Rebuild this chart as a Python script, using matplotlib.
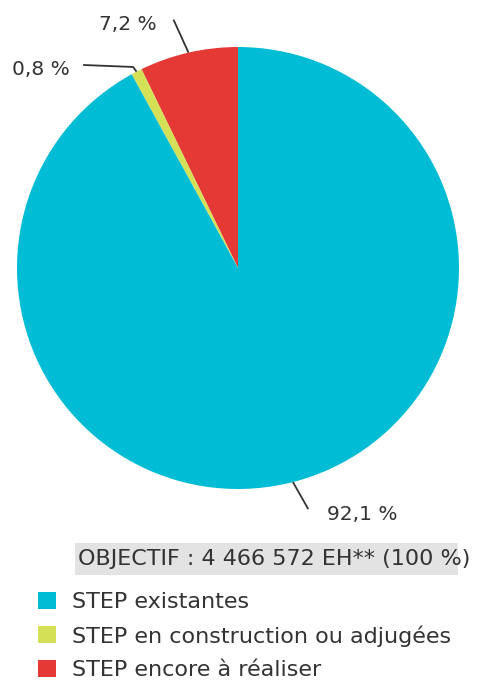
import numpy as np
import matplotlib
matplotlib.use("Agg")
import matplotlib.pyplot as plt
from matplotlib.patches import Patch, Rectangle

# ---- data ----
categories = ["STEP encore à réaliser", "STEP en construction ou adjugées", "STEP existantes"]
values = [7.2, 0.8, 92.1]
pct_labels = ["7,2 %", "0,8 %", "92,1 %"]
colors = ["#E53935", "#D4E157", "#00BCD4"]
legend_order = [2, 1, 0]
title_text = "OBJECTIF : 4 466 572 EH** (100 %)"

W, H = 479, 686
fig = plt.figure(figsize=(W / 100, H / 100), dpi=100)
plt.rcParams['font.family'] = ['DejaVu Sans']
TXT = "#333333"

cx, cy, R = 238, 268, 221
ax = fig.add_axes([(cx - R) / W, (H - cy - R) / H, 2 * R / W, 2 * R / H])
wedges, _ = ax.pie(values, colors=colors, startangle=90, counterclock=True,
                   radius=1, wedgeprops=dict(linewidth=0))
ax.set_xlim(-1, 1)
ax.set_ylim(-1, 1)
ax.set_aspect('equal')
ax.axis('off')

# label layout (pixel offsets from the wedge mid-point on the rim)
layouts = [
    dict(path=[(-15, 33)], text=(-31.5, 28.5), ha='right'),
    dict(path=[(-3.4, 4.7), (-53.4, 6.7)], text=(-66.4, 2.5), ha='right'),
    dict(path=[(15.4, -27.1)], text=(34.4, -32.6), ha='left'),
]
for w, lab, lay in zip(wedges, pct_labels, layouts):
    th = np.deg2rad((w.theta1 + w.theta2) / 2)
    x0, y0 = np.cos(th), np.sin(th)
    xs = [x0] + [x0 + dx / R for dx, dy in lay['path']]
    ys = [y0] + [y0 + dy / R for dx, dy in lay['path']]
    ax.plot(xs, ys, color=TXT, lw=1.3, clip_on=False, solid_capstyle='butt')
    tx, ty = lay['text']
    ax.text(x0 + tx / R, y0 + ty / R, lab, ha=lay['ha'], va='center',
            fontsize=14.5, color=TXT)

# title box
fig.patches.append(Rectangle((75 / W, 1 - 575 / H), (458 - 75) / W, 32 / H,
                             transform=fig.transFigure, facecolor="#E3E3E3",
                             edgecolor='none', zorder=0))
fig.text(78 / W, 1 - 559 / H, title_text, ha='left', va='center',
         fontsize=16, color=TXT)

handles = [Patch(facecolor=colors[i], edgecolor='none') for i in legend_order]
labels = [categories[i] for i in legend_order]
fig.legend(handles, labels, loc='upper left', bbox_to_anchor=(38 / W, 1 - 592 / H),
           frameon=False, fontsize=16, labelcolor=TXT, borderpad=0, borderaxespad=0,
           handlelength=0.8, handleheight=0.8, handletextpad=0.75, labelspacing=0.58)

fig.savefig("out.png", dpi=100)
